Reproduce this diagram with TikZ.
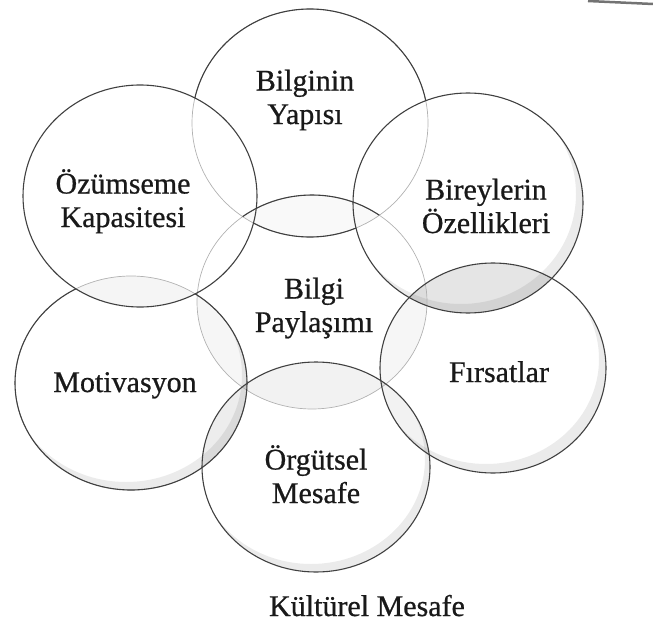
\documentclass[tikz,border=0pt]{standalone}
\usepackage{fontspec}
\setmainfont{Liberation Serif}
\newfontfamily\lblfont[FakeBold=0.7]{Liberation Serif}
\begin{document}
\begin{tikzpicture}[x=1pt,y=-1pt,
  ring/.style={draw=black!75, line width=1.1pt},
  faint/.style={draw=black!30, line width=0.7pt},
  lbl/.style={font=\lblfont\fontsize{30}{33.5}\selectfont, align=center, anchor=base,
              inner sep=0pt, text=black!90},
  lens/.style={fill=black, fill opacity=#1},
  lens/.default=0.05,
  shade/.style={fill=black, fill opacity=0.08, even odd rule},
]
\useasboundingbox (0,0) rectangle (653,634);

% the seven bubbles
\def\eBY{(310,123) ellipse [x radius=118pt, y radius=114pt]}
\def\eBO{(468,203) ellipse [x radius=115pt, y radius=110pt]}
\def\eOK{(140,196) ellipse [x radius=117pt, y radius=111pt]}
\def\eBP{(312,302) ellipse [x radius=115pt, y radius=107pt]}
\def\eMO{(131,383) ellipse [x radius=116pt, y radius=107pt]}
\def\eFI{(493,368) ellipse [x radius=113pt, y radius=105pt]}
\def\eOM{(316,467) ellipse [x radius=114pt, y radius=105pt]}

% light tone where neighbouring bubbles overlap
\begin{scope}\clip \eBO; \fill[lens=0.10] \eFI; \end{scope}
\begin{scope}\clip \eMO; \fill[lens=0.07] \eOM; \end{scope}
\begin{scope}\clip \eOK; \fill[lens=0.04] \eMO; \end{scope}
\begin{scope}\clip \eFI; \fill[lens=0.05] \eOM; \end{scope}
\begin{scope}\clip \eBP; \fill[lens=0.05] \eOM; \end{scope}
\begin{scope}\clip \eBP; \fill[lens=0.035] \eMO; \end{scope}
\begin{scope}\clip \eBP; \fill[lens=0.035] \eFI; \end{scope}
\begin{scope}\clip \eBP; \fill[lens=0.025] \eBY; \end{scope}

% soft inner shadow on the lower right rim
\begin{scope}\clip \eBO; \fill[shade] \eBO (461,194) ellipse [x radius=115pt, y radius=110pt]; \end{scope}
\begin{scope}\clip \eFI; \fill[shade] \eFI (486,359) ellipse [x radius=113pt, y radius=105pt]; \end{scope}
\begin{scope}\clip \eOM; \fill[shade] \eOM (311,459) ellipse [x radius=114pt, y radius=105pt]; \end{scope}
\begin{scope}\clip \eMO; \fill[shade] \eMO (126,375) ellipse [x radius=116pt, y radius=107pt]; \end{scope}

% outlines: faint where a rim runs behind another bubble
\draw[faint] \eBY;
\begin{scope}[even odd rule]
  \clip (0,0) rectangle (653,634) \eOK \eBO;
  \draw[ring] \eBY;
\end{scope}
\draw[faint] \eBP;
\begin{scope}\clip \eBY; \draw[ring] \eBP; \end{scope}
\draw[faint] \eMO;
\begin{scope}[even odd rule]
  \clip (0,0) rectangle (653,634) \eOK;
  \draw[ring] \eMO;
\end{scope}
\draw[ring] \eOK;
\draw[ring] \eBO;
\draw[ring] \eFI;
\draw[ring] \eOM;

% labels (base anchor sits on the last line)
\node[lbl] (bilginin)   at (305,124) {Bilginin\\Yapısı};
\node[lbl] (bireyler)   at (486,233) {Bireylerin\\Özellikleri};
\node[lbl] (ozumseme)   at (123,227) {Özümseme\\Kapasitesi};
\node[lbl] (paylasim)   at (314,332) {Bilgi\\Paylaşımı};
\node[lbl] (motivasyon) at (125,392) {Motivasyon};
\node[lbl] (firsatlar)  at (499,382) {Fırsatlar};
\node[lbl] (orgutsel)   at (316,503) {Örgütsel\\Mesafe};
\node[lbl] (kulturel)   at (367,616) {Kültürel Mesafe};

% stray stroke in the top right corner
\coordinate (strokeA) at (588,1);
\coordinate (strokeB) at (653,4);
\draw[black!55, line width=2.5pt] (strokeA) -- (strokeB);
\end{tikzpicture}
\end{document}
